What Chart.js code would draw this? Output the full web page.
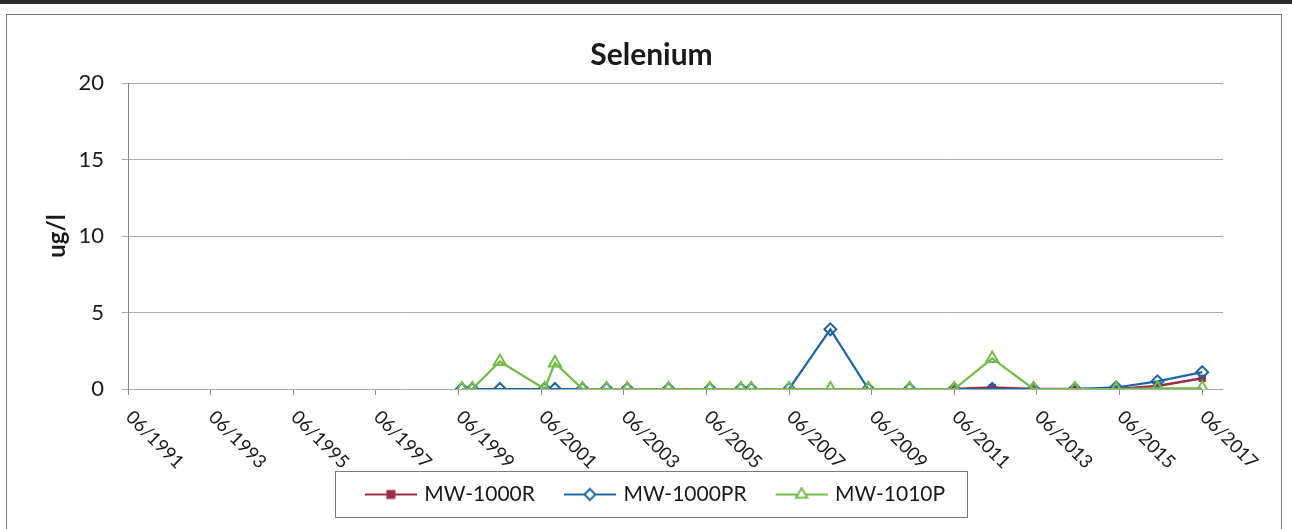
<!DOCTYPE html>
<html>
<head>
<meta charset="utf-8">
<title>Selenium</title>
<script src="https://cdn.jsdelivr.net/npm/chart.js@4.4.0/dist/chart.umd.min.js"></script>
<style>
  html, body { margin: 0; padding: 0; background: #fff; }
  #wrap { position: relative; width: 1292px; height: 529px; overflow: hidden; }
  #topbar { position: absolute; left: 0; top: 0; width: 1292px; height: 4px; background: #2b2b2b; }
  #frame { position: absolute; left: 6px; top: 14px; width: 1274px; height: 530px; border: 1px solid #777; pointer-events: none; }
</style>
</head>
<body>
<div id="wrap">
  <canvas id="mychart"></canvas>
  <div id="topbar"></div>
  <div id="frame"></div>
</div>
<script>
// sampling dates (YYYY-MM)
var dates = ['1999-07', '1999-10', '2000-06', '2001-07', '2001-10', '2002-06', '2003-01', '2003-07',
             '2004-07', '2005-07', '2006-04', '2006-07', '2007-06', '2008-06', '2009-05', '2010-05',
             '2011-06', '2012-05', '2013-05', '2014-05', '2015-05', '2016-05', '2017-06'];

// Selenium, ug/l  (null = not sampled)
var mw1000R  = [null, null, null, null, null, null, null, null, null, null, null, null, null, null, null, null,
                0, 0.1, 0, 0, 0, 0.2, 0.7];
var mw1000PR = [0, 0, 0, 0, 0, 0, 0, 0, 0, 0, 0, 0, 0, 3.9, 0, 0,
                0, 0, 0, 0, 0.1, 0.5, 1.1];
var mw1010P  = [0, 0, 1.8, 0, 1.7, 0, 0, 0, 0, 0, 0, 0, 0, 0, 0, 0,
                0, 2.0, 0, 0, 0, 0.05, 0.05];

var tickYears = [1991, 1993, 1995, 1997, 1999, 2001, 2003, 2005, 2007, 2009, 2011, 2013, 2015, 2017];
var xMin = 1991 + 5 / 12;
var xMax = 2017.92;

var colRed = '#9c2c48';
var colBlue = '#1d66a6';
var colGreen = '#72bd47';

// title and legend sit a bit right of the layout centre
var titleShift = 25;
var legendShift = 19;
var iconGap = 22;

function toYear(s) {
    var p = s.split('-');
    return +p[0] + (p[1] - 1) / 12;
}

function makePoints(values) {
    return dates.map(function (d, i) {
        return { x: toYear(d), y: values[i] };
    });
}

// small line + marker picture for the legend (blank strip on the left = gap between items)
function legendIcon(color, style, radius, fill) {
    var c = document.createElement('canvas');
    c.width = 52 + iconGap; c.height = 16;
    var g = c.getContext('2d');
    g.strokeStyle = color;
    g.lineWidth = 2;
    g.beginPath(); g.moveTo(iconGap, 8); g.lineTo(iconGap + 52, 8); g.stroke();
    g.fillStyle = fill;
    Chart.helpers.drawPoint(g, { pointStyle: style, radius: radius, rotation: 0, borderWidth: 2 }, iconGap + 26, 8);
    return c;
}

var icons = [
    legendIcon(colRed, 'rect', 5, colRed),
    legendIcon(colBlue, 'rectRot', 5.5, '#fff'),
    legendIcon(colGreen, 'triangle', 6.5, '#fff')
];

// x tick labels, rotated down to the right
var xLabels = {
    id: 'xLabels',
    afterDraw: function (chart) {
        var xs = chart.scales.x, ctx = chart.ctx;
        ctx.save();
        ctx.font = '18.5px Lato';
        ctx.fillStyle = '#1a1a1a';
        ctx.textAlign = 'left';
        ctx.textBaseline = 'middle';
        tickYears.forEach(function (yr) {
            var px = xs.getPixelForValue(yr + 5 / 12);
            ctx.save();
            ctx.translate(px + 1, xs.top + 25);
            ctx.rotate(Math.PI / 4);
            ctx.fillText('06/' + yr, 0, 0);
            ctx.restore();
        });
        ctx.restore();
    }
};

// box round the legend, and title/legend moved over
var legendBox = {
    id: 'legendBox',
    afterLayout: function (chart) {
        chart.titleBlock.left += titleShift;
        chart.titleBlock.right += titleShift;
        chart.legend.left += legendShift;
        chart.legend.right += legendShift;
    },
    afterDraw: function (chart) {
        var hb = chart.legend.legendHitBoxes;
        if (!hb || !hb.length) return;
        var last = hb[hb.length - 1];
        var l = hb[0].left + iconGap - 33, r = last.left + last.width + 22;
        var t = hb[0].top - 13, b = hb[0].top + hb[0].height + 12;
        var ctx = chart.ctx;
        ctx.save();
        ctx.strokeStyle = '#7a7a7a';
        ctx.lineWidth = 1;
        ctx.strokeRect(Math.round(l) + 0.5, Math.round(t) + 0.5, Math.round(r - l), Math.round(b - t));
        ctx.restore();
    }
};

var data = {
    datasets: [{
        label: 'MW-1000R',
        data: makePoints(mw1000R),
        borderColor: colRed,
        backgroundColor: colRed,
        borderWidth: 2.5,
        pointStyle: 'rect',
        pointRadius: 4.5,
        pointBorderWidth: 1,
        order: 3
    }, {
        label: 'MW-1000PR',
        data: makePoints(mw1000PR),
        borderColor: colBlue,
        backgroundColor: 'rgba(0,0,0,0)',
        borderWidth: 2.2,
        pointStyle: 'rectRot',
        pointRadius: 6,
        pointBorderWidth: 2,
        order: 2
    }, {
        label: 'MW-1010P',
        data: makePoints(mw1010P),
        borderColor: colGreen,
        backgroundColor: 'rgba(0,0,0,0)',
        borderWidth: 2.2,
        pointStyle: 'triangle',
        pointRadius: 7,
        pointBorderWidth: 2,
        order: 1
    }]
};

var ctx = document.getElementById('mychart').getContext('2d');
document.getElementById('mychart').parentNode.style.width = '1292px';
var chart = new Chart(ctx, {
    type: 'line',
    data: data,
    plugins: [xLabels, legendBox],
    options: {
        responsive: true,
        maintainAspectRatio: false,
        animation: false,
        layout: { padding: { left: 30, right: 69, top: 20, bottom: 14 } },
        elements: { line: { tension: 0 } },
        scales: {
            x: {
                type: 'linear',
                min: xMin,
                max: xMax,
                afterBuildTicks: function (scale) {
                    scale.ticks = tickYears.map(function (y) { return { value: y + 5 / 12 }; });
                },
                afterFit: function (scale) { scale.height = 85; },
                ticks: { display: false },
                grid: { drawOnChartArea: false, drawTicks: true, tickLength: 6, color: '#8a8a8a' },
                border: { display: false }
            },
            y: {
                min: 0,
                max: 20,
                afterFit: function (scale) { scale.width = 98; },
                ticks: {
                    stepSize: 5,
                    padding: 18,
                    color: '#1a1a1a',
                    font: { family: 'Lato', size: 22 }
                },
                grid: { color: '#ababab', tickLength: 6, drawTicks: true },
                border: { display: true, color: '#858585' },
                title: {
                    display: true,
                    text: 'ug/l',
                    color: '#1a1a1a',
                    font: { family: 'Lato', size: 24, weight: 'bold' },
                    padding: { top: 13, bottom: 0 }
                }
            }
        },
        plugins: {
            title: {
                display: true,
                text: 'Selenium',
                color: '#1a1a1a',
                font: { family: 'Lato', size: 30, weight: 'bold' },
                padding: { top: 17, bottom: 10 }
            },
            legend: {
                position: 'bottom',
                labels: {
                    usePointStyle: true,
                    pointStyleWidth: 52 + iconGap - 6,
                    padding: 10,
                    color: '#1a1a1a',
                    font: { family: 'Lato', size: 21 },
                    sort: function (a, b) { return a.datasetIndex - b.datasetIndex; },
                    generateLabels: function (chart) {
                        return chart.data.datasets.map(function (ds, i) {
                            return {
                                text: ds.label,
                                pointStyle: icons[i],
                                fillStyle: 'rgba(0,0,0,0)',
                                strokeStyle: 'rgba(0,0,0,0)',
                                lineWidth: 0,
                                hidden: false,
                                datasetIndex: i,
                                fontColor: '#1a1a1a'
                            };
                        });
                    }
                }
            },
            tooltip: { enabled: false }
        }
    }
});
</script>
</body>
</html>
